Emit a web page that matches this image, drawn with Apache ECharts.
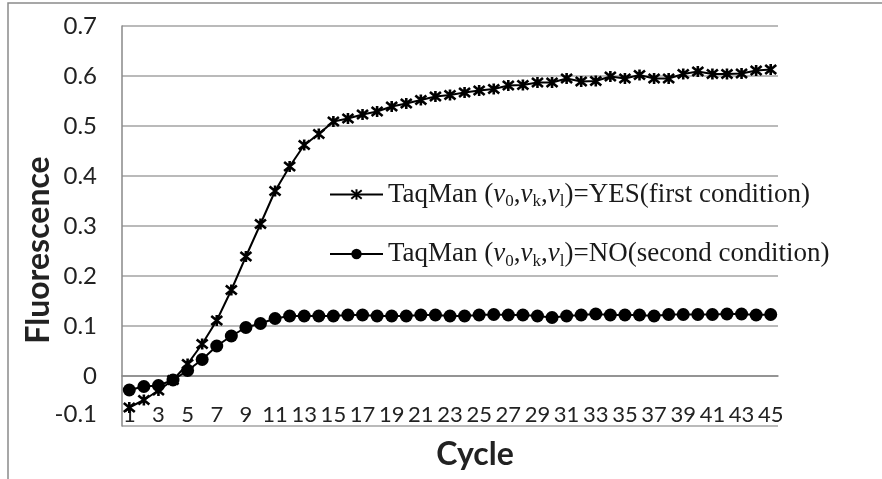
<!DOCTYPE html>
<html>
<head>
<meta charset="utf-8">
<script src="https://cdn.jsdelivr.net/npm/echarts@6/dist/echarts.min.js"></script>
<style>
html,body{margin:0;padding:0;background:#fff;}
#chart{width:882px;height:479px;}
</style>
</head>
<body>
<div id="chart"></div>
<script>
var cycles = ['1','2','3','4','5','6','7','8','9','10','11','12','13','14','15','16','17','18','19','20','21','22','23','24','25','26','27','28','29','30','31','32','33','34','35','36','37','38','39','40','41','42','43','44','45'];
var yesValues = [-0.063,-0.048,-0.029,-0.008,0.024,0.064,0.111,0.172,0.239,0.304,0.370,0.419,0.462,0.484,0.509,0.515,0.523,0.529,0.539,0.545,0.552,0.559,0.562,0.567,0.571,0.574,0.581,0.582,0.587,0.587,0.595,0.589,0.590,0.599,0.595,0.602,0.595,0.595,0.604,0.609,0.604,0.604,0.605,0.611,0.613];
var noValues = [-0.028,-0.021,-0.019,-0.008,0.011,0.033,0.060,0.080,0.097,0.105,0.115,0.120,0.120,0.120,0.120,0.122,0.122,0.120,0.120,0.120,0.122,0.122,0.120,0.120,0.122,0.123,0.122,0.122,0.120,0.117,0.120,0.122,0.124,0.122,0.122,0.122,0.120,0.123,0.123,0.123,0.123,0.124,0.124,0.122,0.123];
var yTicks = {min: -0.1, max: 0.7, interval: 0.1};
var seriesNames = ['YES', 'NO'];
var legendLabels = {
  'YES': 'TaqMan ({i|v}{s|0},{i|v}{s|k},{i|v}{s|l})=YES(first condition)',
  'NO': 'TaqMan ({i|v}{s|0},{i|v}{s|k},{i|v}{s|l})=NO(second condition)'
};

var chart = echarts.init(document.getElementById('chart'), null, {renderer: 'canvas'});
var labelFont = 'Lato';
var option = {
  animation: false,
  backgroundColor: '#fff',
  graphic: [{
    type: 'rect', z: -10, silent: true,
    shape: {x: 8, y: 3, width: 900, height: 600},
    style: {fill: 'none', stroke: '#8a8a8a', lineWidth: 1.5}
  }],
  grid: {left: 122, right: 104, top: 26, bottom: 53, containLabel: false},
  legend: {
    orient: 'vertical',
    left: 324, top: 176,
    itemWidth: 53, itemHeight: 13, itemGap: 30,
    data: seriesNames,
    formatter: function (n) { return legendLabels[n]; },
    textStyle: {
      fontFamily: 'Liberation Serif', fontSize: 27, color: '#1a1a1a',
      rich: {
        i: {fontFamily: 'Liberation Serif', fontStyle: 'italic', fontSize: 27, color: '#1a1a1a', lineHeight: 32},
        s: {fontFamily: 'Liberation Serif', fontSize: 17, color: '#1a1a1a', lineHeight: 14, verticalAlign: 'bottom'}
      }
    }
  },
  xAxis: {
    type: 'category',
    data: cycles,
    boundaryGap: true,
    name: 'Cycle',
    nameLocation: 'middle',
    nameGap: 13,
    nameMoveOverlap: false,
    nameTextStyle: {fontFamily: labelFont, fontWeight: 'bold', fontSize: 32, color: '#222', padding: [0, 0, 0, 50]},
    axisLine: {show: true, lineStyle: {color: '#888', width: 1.5}},
    axisTick: {show: false},
    axisLabel: {inside: true, interval: 1, margin: 0, fontFamily: labelFont, fontSize: 22, color: '#222'},
    splitLine: {show: false}
  },
  yAxis: {
    type: 'value',
    min: yTicks.min, max: yTicks.max, interval: yTicks.interval,
    name: 'Fluorescence',
    nameLocation: 'middle',
    nameGap: 67,
    nameMoveOverlap: false,
    nameTextStyle: {fontFamily: labelFont, fontWeight: 'bold', fontSize: 32, color: '#222', padding: [0, 48, 0, 0]},
    axisLine: {show: true, lineStyle: {color: '#888', width: 1.5}},
    axisTick: {show: false},
    splitLine: {show: true, lineStyle: {color: '#a3a3a3', width: 1.5}},
    axisLabel: {
      margin: 25, fontFamily: labelFont, fontSize: 24, color: '#222',
      formatter: function (v) {
        var r = Math.round(v * 10) / 10;
        if (Math.abs(r - yTicks.min) < 1e-9) return '{low|' + r + '}';
        return String(r);
      },
      rich: {low: {fontFamily: labelFont, fontSize: 24, color: '#222', padding: [0, 0, 24, 0]}}
    }
  },
  series: [{
    name: 'YES',
    type: 'line',
    data: yesValues,
    showAllSymbol: true,
    symbol: 'path://M0,0L10,10M10,0L0,10M5,-1L5,11',
    symbolSize: 11,
    lineStyle: {color: '#000', width: 2},
    itemStyle: {color: '#000', borderColor: '#000', borderWidth: 2.6}
  }, {
    name: 'NO',
    type: 'line',
    data: noValues,
    showAllSymbol: true,
    symbol: 'circle',
    symbolSize: 13,
    lineStyle: {color: '#000', width: 2},
    itemStyle: {color: '#000', borderColor: '#000', borderWidth: 0}
  }]
};
chart.setOption(option);
</script>
</body>
</html>
